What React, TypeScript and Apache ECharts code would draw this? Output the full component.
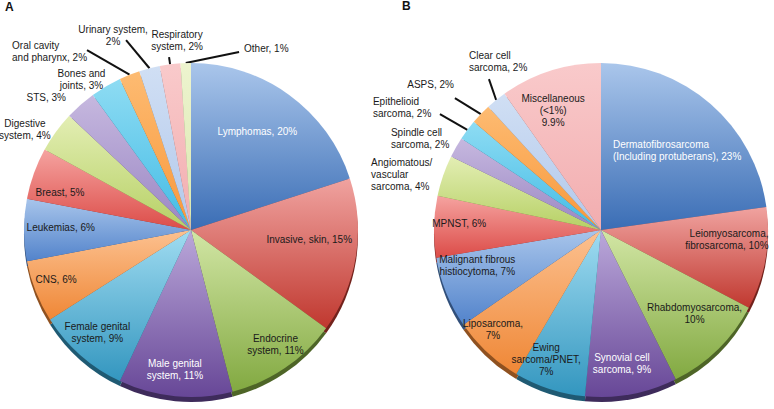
import React, { useEffect, useRef } from "react";
import * as echarts from "echarts";

// ---------- data ----------
const panelTitles = ["A", "B"];

const categoriesA = [
  "Lymphomas",
  "Invasive, skin",
  "Endocrine\nsystem",
  "Male genital\nsystem",
  "Female genital\nsystem",
  "CNS",
  "Leukemias",
  "Breast",
  "Digestive\nsystem",
  "STS",
  "Bones and\njoints",
  "Oral cavity\nand pharynx",
  "Urinary system",
  "Respiratory\nsystem",
  "Other",
];
const valuesA = [20, 15, 11, 11, 9, 6, 6, 5, 4, 3, 3, 2, 2, 2, 1];

const categoriesB = [
  "Dermatofibrosarcoma\n(Including protuberans)",
  "Leiomyosarcoma,\nfibrosarcoma",
  "Rhabdomyosarcoma",
  "Synovial cell\nsarcoma",
  "Ewing\nsarcoma/PNET",
  "Liposarcoma",
  "Malignant fibrous\nhistiocytoma",
  "MPNST",
  "Angiomatous/\nvascular\nsarcoma",
  "Spindle cell\nsarcoma",
  "Epithelioid\nsarcoma",
  "ASPS",
  "Clear cell\nsarcoma",
  "Miscellaneous\n(<1%)",
];
const valuesB = [23, 10, 10, 9, 7, 7, 7, 6, 4, 2, 2, 2, 2, 9.9];

// separator between category text and value in the labels
const valueSepA = [", ", ", ", ", ", ", ", ", ", ", ", ", ", ", ", ", ", ", ", ", ", ", ", ",\n", ", ", ", "];
const valueSepB = [", ", ", ", ",\n", ", ", ",\n", ",\n", ", ", ", ", ", ", ", ", ", ", ", ", ", ", "\n"];

// ---------- styles ----------
const palette: [string, string][] = [
  ["#AAC6EB", "#3A6DB5"], // blue
  ["#F0A3A0", "#C0382F"], // red
  ["#D2E6A5", "#82A941"], // green
  ["#BBA8DA", "#674797"], // purple
  ["#A0DCF1", "#3396BF"], // cyan
  ["#FCC190", "#EF8736"], // orange
  ["#A8C5EB", "#5283CB"], // light blue
  ["#F5A3A0", "#DC4C48"], // salmon
  ["#E3EEB4", "#B6D064"], // yellow-green
  ["#C6B8DF", "#9A86C3"], // lavender
  ["#8EDCF3", "#43BBE5"], // bright cyan
  ["#FDBB72", "#F8983B"], // light orange
  ["#D0DFF4", "#B2C8EB"], // pale blue
  ["#F9CACB", "#F2ADAF"], // pink
  ["#EDF4CF", "#DAE7AE"], // pale green
];

const CX_A = 191;
const CX_B = 601;
const CY = 230;
const R = 167;
const RIM = 5;

type Spec = {
  k?: number;
  da?: number;
  line?: [number, number];
  tdx?: number;
  tdy?: number;
  align?: string;
  color?: string;
};

const labelSpecA: Spec[] = [
  { k: 0.71, da: 2, color: "#ffffff" },
  { k: 0.71, da: 4.6 },
  { k: 0.85, da: 2.3 },
  { k: 0.84, da: -1.2, color: "#ffffff" },
  { k: 0.83, da: -1.1 },
  { k: 0.86, da: -1.6 },
  { k: 0.78, da: -1.1 },
  { k: 0.815, da: 4 },
  { tdx: -31, tdy: -2.3, align: "center" },
  { tdx: -14.6, tdy: -7.2, align: "right" },
  { tdx: -24.5, tdy: -7.2, align: "center" },
  { line: [-42.5, -24.7], tdx: -75, tdy: 1.5, align: "left" },
  { line: [-23.4, -28.2], tdx: -13, tdy: -5, align: "center" },
  { line: [-1, -7.3], tdx: 8, tdy: -17, align: "center" },
  { line: [53.3, -11.1], tdx: 5, tdy: -3.5, align: "left" },
];

const labelSpecB: Spec[] = [
  { k: 0.66, da: -2.5, color: "#ffffff", tdx: -64, align: "left" },
  { k: 0.76, da: 5.4, tdx: 41, align: "right" },
  { k: 0.75, da: 3.9 },
  { k: 0.81, da: -1.6, color: "#ffffff" },
  { k: 0.84, da: -5 },
  { k: 0.88, da: -4.3 },
  { k: 0.77, da: -6.2 },
  { k: 0.85, da: -1.6 },
  { tdx: -72, tdy: -1.6, align: "left" },
  { tdx: -65, tdy: -8.8, align: "left" },
  { line: [-27.4, -15.8], tdx: -67, tdy: -6.5, align: "left" },
  { line: [-25.9, -15.9], tdx: -1, tdy: -13.5, align: "right" },
  { line: [-7.2, -20.9], tdx: -20, tdy: -17.5, align: "left" },
  { k: 0.77, da: 4.2 },
];

const FONT = "'Liberation Sans', Arial, Helvetica, sans-serif";

function shade(hex: string, f: number): string {
  const n = parseInt(hex.slice(1), 16);
  const r = Math.round(((n >> 16) & 255) * f);
  const g = Math.round(((n >> 8) & 255) * f);
  const b = Math.round((n & 255) * f);
  return "rgb(" + r + "," + g + "," + b + ")";
}

function midAngles(values: number[]): number[] {
  const total = values.reduce((a, b) => a + b, 0);
  const mids: number[] = [];
  let acc = 0;
  values.forEach((v) => {
    const a0 = 90 - (acc / total) * 360;
    acc += v;
    const a1 = 90 - (acc / total) * 360;
    mids.push((a0 + a1) / 2);
  });
  return mids;
}

function makeLayout(values: number[], cx: number, cy: number, specs: Spec[]) {
  const mids = midAngles(values);
  return (params: any) => {
    const i = params.dataIndex;
    const s = specs[i];
    const rad = (d: number) => (d * Math.PI) / 180;
    if (s.k != null) {
      const a = rad(mids[i] + (s.da || 0));
      return {
        x: cx + s.k * R * Math.cos(a) + (s.tdx || 0),
        y: cy - s.k * R * Math.sin(a) + (s.tdy || 0),
        align: s.align || "center",
        verticalAlign: "middle",
      };
    }
    const a = rad(mids[i]);
    const ex = cx + R * Math.cos(a);
    const ey = cy - R * Math.sin(a);
    let lx = ex;
    let ly = ey;
    const out: any = {};
    if (s.line) {
      lx = ex + s.line[0];
      ly = ey + s.line[1];
      out.labelLinePoints = [
        [ex, ey],
        [lx, ly],
        [lx, ly],
      ];
    }
    out.x = lx + (s.tdx || 0);
    out.y = ly + (s.tdy || 0);
    out.align = s.align || "center";
    out.verticalAlign = "middle";
    return out;
  };
}

function gradient(i: number) {
  const [light, dark] = palette[i % palette.length];
  return new echarts.graphic.LinearGradient(0, 0, 0, 1, [
    { offset: 0, color: light },
    { offset: 1, color: dark },
  ]);
}

function buildSeries(
  names: string[],
  values: number[],
  seps: string[],
  specs: Spec[],
  cx: number
): any[] {
  const rim = {
    type: "pie",
    silent: true,
    z: 1,
    center: [cx, CY + RIM],
    radius: R,
    startAngle: 90,
    label: { show: false },
    labelLine: { show: false },
    data: names.map((n, i) => ({
      name: n,
      value: values[i],
      itemStyle: { color: shade(palette[i % palette.length][1], 0.6) },
    })),
  };
  const main = {
    type: "pie",
    silent: true,
    z: 2,
    center: [cx, CY],
    radius: R,
    startAngle: 90,
    avoidLabelOverlap: false,
    itemStyle: { borderWidth: 0 },
    label: {
      show: true,
      fontFamily: FONT,
      fontSize: 10,
      lineHeight: 12,
      color: "#1a1a1a",
      formatter: (p: any) => p.name + seps[p.dataIndex] + p.value + "%",
    },
    labelLine: { show: true, lineStyle: { color: "#111111", width: 2 } },
    labelLayout: makeLayout(values, cx, CY, specs),
    data: names.map((n, i) => {
      const s = specs[i];
      const inside = s.k != null;
      return {
        name: n,
        value: values[i],
        itemStyle: { color: gradient(i) },
        label: {
          position: inside ? "inside" : "outside",
          color: s.color || "#1a1a1a",
        },
        labelLine: { show: !!s.line },
      };
    }),
  };
  return [rim, main];
}

export default function App() {
  const ref = useRef<HTMLDivElement>(null);
  useEffect(() => {
    if (!ref.current) return;
    const chart = echarts.init(ref.current, undefined, { renderer: "svg" });
    chart.setOption({
      animation: false,
      backgroundColor: "#ffffff",
      title: [
        {
          text: panelTitles[0],
          left: 5,
          top: 1,
          padding: 0,
          textStyle: { fontFamily: FONT, fontSize: 12, fontWeight: "bold", color: "#111" },
        },
        {
          text: panelTitles[1],
          left: 402,
          top: 0,
          padding: 0,
          textStyle: { fontFamily: FONT, fontSize: 12, fontWeight: "bold", color: "#111" },
        },
      ],
      series: [
        ...buildSeries(categoriesA, valuesA, valueSepA, labelSpecA, CX_A),
        ...buildSeries(categoriesB, valuesB, valueSepB, labelSpecB, CX_B),
      ],
    });
    return () => chart.dispose();
  }, []);
  return (
    <div
      ref={ref}
      style={{ position: "fixed", left: 0, top: 0, width: 774, height: 409 }}
    />
  );
}
